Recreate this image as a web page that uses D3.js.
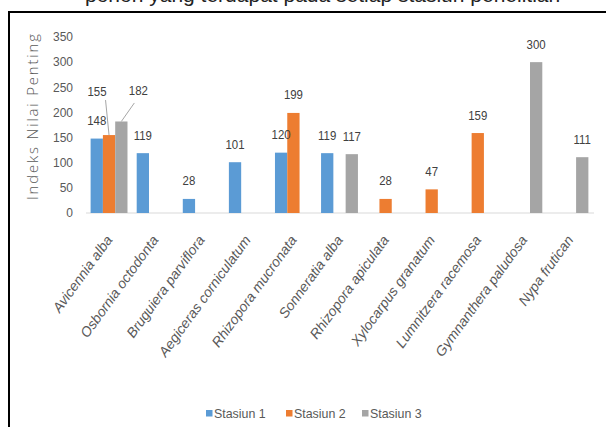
<!DOCTYPE html>
<html>
<head>
<meta charset="utf-8">
<script src="https://cdn.jsdelivr.net/npm/d3@7"></script>
<style>
  html, body { margin: 0; padding: 0; background: #fff; }
  svg { display: block; }
</style>
</head>
<body>
<svg id="chart" width="606" height="427"></svg>
<script>
// Species (categories) on the x axis
const species = [
  "Avicennia alba", "Osbornia octodonta", "Bruguiera parviflora",
  "Aegiceras corniculatum", "Rhizopora mucronata", "Sonneratia alba",
  "Rhizopora apiculata", "Xylocarpus granatum", "Lumnitzera racemosa",
  "Gymnanthera paludosa", "Nypa frutican"
];
// Importance value index per station (null = species absent)
const stasiun1 = [148, 119, 28, 101, 120, 119, null, null, null, null, null];
const stasiun2 = [155, null, null, null, 199, null, 28, 47, 159, null, null];
const stasiun3 = [182, null, null, null, null, 117, null, null, null, 300, 111];
const seriesNames = ["Stasiun 1", "Stasiun 2", "Stasiun 3"];
const yTicks = [0, 50, 100, 150, 200, 250, 300, 350];

const colors = ["#5B9BD5", "#ED7D31", "#A5A5A5"];
const seriesValues = [stasiun1, stasiun2, stasiun3];

const svg = d3.select("#chart");
const FONT = "'Liberation Sans', Arial, sans-serif";

// Caption line running above the frame, clipped by the page top
svg.append("text")
  .attr("x", 85).attr("y", 2)
  .attr("font-family", FONT).attr("font-size", 21)
  .attr("fill", "#222")
  .text("pohon yang terdapat pada setiap stasiun penelitian");

// Frame
svg.append("rect")
  .attr("x", 9).attr("y", 12)
  .attr("width", 720).attr("height", 500)
  .attr("fill", "#fff").attr("stroke", "#000").attr("stroke-width", 2);

const x0 = d3.scaleBand().domain(species).range([86, 593]).paddingInner(0.2).paddingOuter(0.1);
const x1 = d3.scaleBand().domain(seriesNames).range([0, x0.bandwidth()]);
const y = d3.scaleLinear().domain([0, 350]).range([213, 37]);

// Y axis
const yAxis = svg.append("g")
  .attr("transform", "translate(78,0)")
  .call(d3.axisLeft(y).tickValues(yTicks).tickSize(0).tickPadding(5));
yAxis.select(".domain").remove();
yAxis.selectAll("text")
  .attr("font-family", FONT).attr("font-size", 12).attr("fill", "#595959");

// Y axis title
svg.append("text")
  .attr("transform", "translate(38,117) rotate(-90)")
  .attr("text-anchor", "middle")
  .attr("font-family", "'Open Sans', sans-serif").attr("font-weight", 300)
  .attr("font-size", 15).attr("fill", "#595959")
  .attr("textLength", 166).attr("lengthAdjust", "spacing")
  .text("Indeks Nilai Penting");

// Baseline
svg.append("line")
  .attr("x1", 86).attr("x2", 594)
  .attr("y1", y(0)).attr("y2", y(0))
  .attr("stroke", "#d9d9d9").attr("stroke-width", 1);

// Bars
const barData = [];
seriesValues.forEach((vals, si) => {
  vals.forEach((v, ci) => {
    if (v !== null) barData.push({ s: seriesNames[si], si, c: species[ci], v });
  });
});

svg.append("g").selectAll("rect")
  .data(barData).join("rect")
  .attr("x", d => x0(d.c) + x1(d.s))
  .attr("y", d => y(d.v))
  .attr("width", x1.bandwidth())
  .attr("height", d => y(0) - y(d.v))
  .attr("fill", d => colors[d.si]);

// Data labels; two labels in the crowded first group sit higher with leader lines
const moved = {
  "Stasiun 2|Avicennia alba": { dx: -12, dy: -26, lx: -3.5, ly: -35 },
  "Stasiun 3|Avicennia alba": { dx: 17, dy: -13, lx: 13, ly: -18.5 }
};
const cx = d => x0(d.c) + x1(d.s) + x1.bandwidth() / 2;

barData.forEach(d => {
  const m = moved[d.s + "|" + d.c];
  let tx = cx(d), ty = y(d.v) - 13.5;
  if (m) {
    tx += m.dx; ty += m.dy;
    svg.append("line")
      .attr("x1", cx(d) + m.lx).attr("y1", y(d.v) + m.ly)
      .attr("x2", cx(d)).attr("y2", y(d.v))
      .attr("stroke", "#a6a6a6").attr("stroke-width", 1);
  }
  svg.append("text")
    .attr("transform", `translate(${tx},${ty}) scale(0.88,1)`)
    .attr("text-anchor", "middle")
    .attr("font-family", FONT).attr("font-size", 13)
    .attr("fill", "#404040")
    .text(d.v);
});

// Category labels
svg.append("g").selectAll("text")
  .data(species).join("text")
  .attr("transform", d => `translate(${x0(d) + x0.bandwidth() / 2 + 4},${y(0) + 27}) rotate(-54)`)
  .attr("text-anchor", "end")
  .attr("font-family", FONT).attr("font-size", 14)
  .attr("font-style", "italic")
  .attr("fill", "#595959")
  .text(d => d);

// Legend
const legendX = [206, 286, 362];
const legend = svg.append("g");
seriesNames.forEach((name, i) => {
  legend.append("rect")
    .attr("x", legendX[i]).attr("y", 410)
    .attr("width", 6.5).attr("height", 6.5)
    .attr("fill", colors[i]);
  legend.append("text")
    .attr("x", legendX[i] + 8).attr("y", 417.5)
    .attr("font-family", FONT).attr("font-size", 12.4)
    .attr("fill", "#595959")
    .text(name);
});
</script>
</body>
</html>
